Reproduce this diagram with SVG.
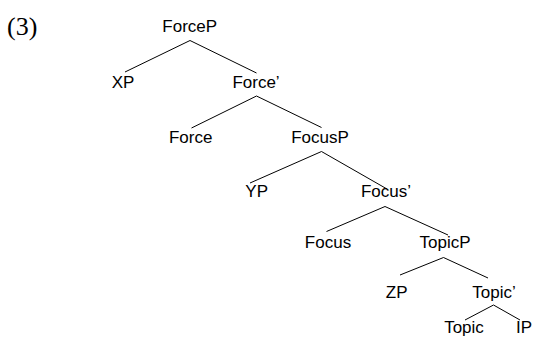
<svg xmlns="http://www.w3.org/2000/svg" width="533" height="337" viewBox="0 0 533 337">
<style>
text { font-family: "Liberation Sans", Arial, sans-serif; font-size: 17px; fill: #000; text-anchor: middle; }
.num { font-family: "Liberation Serif", "Times New Roman", serif; font-size: 26px; text-anchor: start; }
line { stroke: #000; stroke-width: 1; }
</style>
<rect width="533" height="337" fill="#fff"/>
<text class="num" x="7" y="35">(3)</text>
<g id="connectors">
<line x1="190" y1="40.5" x2="125" y2="72"/>
<line x1="190" y1="40.5" x2="256.5" y2="73"/>
<line x1="256.5" y1="96" x2="191.5" y2="128"/>
<line x1="256.5" y1="96" x2="321.5" y2="127.5"/>
<line x1="321.5" y1="151.5" x2="250" y2="183"/>
<line x1="321.5" y1="151.5" x2="387" y2="189"/>
<line x1="385" y1="206.5" x2="326.5" y2="231.5"/>
<line x1="385" y1="206.5" x2="448" y2="235"/>
<line x1="443.5" y1="257.5" x2="400" y2="275"/>
<line x1="443.5" y1="257.5" x2="488" y2="278"/>
<line x1="493.5" y1="305" x2="465" y2="320"/>
<line x1="493.5" y1="305" x2="520" y2="320"/>
</g>
<g id="n-ForceP"><text x="189.7" y="32">ForceP</text></g>
<g id="n-XP"><text x="123" y="88">XP</text></g>
<g id="n-ForceBar"><text x="256" y="88">Force’</text></g>
<g id="n-Force"><text x="190.7" y="143">Force</text></g>
<g id="n-FocusP"><text x="320" y="143">FocusP</text></g>
<g id="n-YP"><text x="256.7" y="197">YP</text></g>
<g id="n-FocusBar"><text x="386" y="197">Focus’</text></g>
<g id="n-Focus"><text x="328" y="248">Focus</text></g>
<g id="n-TopicP"><text x="445" y="248">TopicP</text></g>
<g id="n-ZP"><text x="396.7" y="298">ZP</text></g>
<g id="n-TopicBar"><text x="494" y="298">Topic’</text></g>
<g id="n-Topic"><text x="464" y="333">Topic</text></g>
<g id="n-IP"><text x="524" y="333">IP</text></g>
</svg>
